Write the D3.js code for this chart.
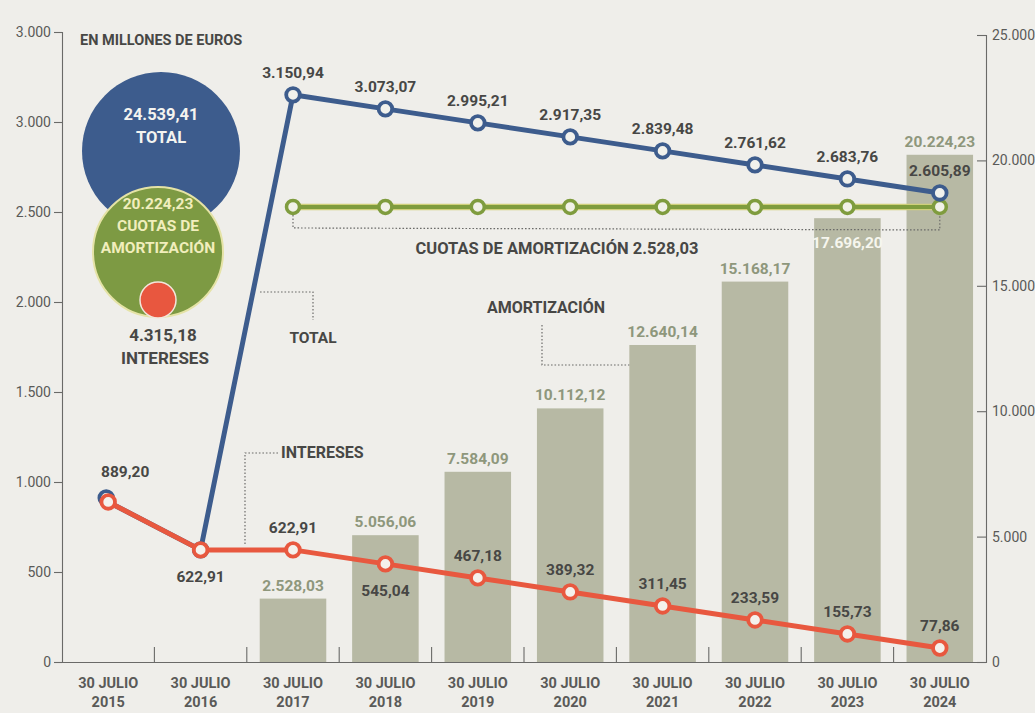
<!DOCTYPE html>
<html>
<head>
<meta charset="utf-8">
<script src="https://cdn.jsdelivr.net/npm/d3@7"></script>
<style>
  html, body { margin: 0; padding: 0; background: #efeeea; }
  svg { display: block; }
  text { font-family: Roboto, "Open Sans", sans-serif; }
</style>
</head>
<body>
<svg id="chart" width="1035" height="713"></svg>
<script>
// ---------------- DATA ----------------
const years = ["2015","2016","2017","2018","2019","2020","2021","2022","2023","2024"];
const xLabelTop = "30 JULIO";
const total = [889.20, 622.91, 3150.94, 3073.07, 2995.21, 2917.35, 2839.48, 2761.62, 2683.76, 2605.89];
const intereses = [889.20, 622.91, 622.91, 545.04, 467.18, 389.32, 311.45, 233.59, 155.73, 77.86];
const cuotas = [null, null, 2528.03, 2528.03, 2528.03, 2528.03, 2528.03, 2528.03, 2528.03, 2528.03];
const amortizacion = [null, null, 2528.03, 5056.06, 7584.09, 10112.12, 12640.14, 15168.17, 17696.20, 20224.23];
const leftTicks = [0, 500, 1000, 1500, 2000, 2500, 3000, 3500];
const leftTickLabels = ["0", "500", "1.000", "1.500", "2.000", "2.500", "3.000", "3.000"];
const rightTicks = [0, 5000, 10000, 15000, 20000, 25000];
const sumTotal = 24539.41, sumCuotas = 20224.23, sumIntereses = 4315.18;

// ---------------- SETUP ----------------
const es = d3.formatLocale({decimal: ",", thousands: ".", grouping: [3], currency: ["", "€"]});
const f2 = es.format(",.2f");
const f0 = es.format(",.0f");

const svg = d3.select("#chart");
const L = 62, R = 986, B = 662;
const x = d3.scaleBand().domain(years).range([L, R]).paddingInner(0.28).paddingOuter(0.14);
const yL = d3.scaleLinear().domain([0, 3500]).range([B, 32]);
const yR = d3.scaleLinear().domain([0, 25000]).range([B, 35]);
const cx = d => x(d) + x.bandwidth() / 2;

const BLUE = "#3d5c8d", RED = "#e8583f", GREEN = "#7f9c3e", BAR = "#b7b9a4", TXT = "#474745", AX = "#5a5a58";

// ---------------- BARS ----------------
const barData = years.map((y, i) => ({y, v: amortizacion[i]})).filter(d => d.v != null);
svg.append("g").selectAll("rect").data(barData).join("rect")
  .attr("x", d => x(d.y)).attr("width", x.bandwidth())
  .attr("y", d => yR(d.v)).attr("height", d => B - yR(d.v))
  .attr("fill", BAR);
svg.append("g").selectAll("text").data(barData).join("text")
  .attr("x", d => cx(d.y))
  .attr("y", d => d.y === "2023" ? yR(d.v) + 30 : yR(d.v) - 8)
  .attr("text-anchor", "middle")
  .attr("font-size", 15.5).attr("font-weight", 700)
  .attr("fill", d => d.y === "2023" ? "#f6f6ee" : "#8e977c")
  .text(d => f2(d.v));

// ---------------- AXES ----------------
const axL = svg.append("g").attr("transform", `translate(${L},0)`)
  .call(d3.axisLeft(yL).tickValues(leftTicks).tickSize(8).tickPadding(3)
    .tickFormat((d, i) => leftTickLabels[i]));
const axR = svg.append("g").attr("transform", `translate(${R},0)`)
  .call(d3.axisRight(yR).tickValues(rightTicks).tickSize(-9).tickPadding(6).tickFormat(f0));
[axL, axR].forEach(a => {
  a.selectAll("path,line").attr("stroke", "#6a6a68").attr("stroke-width", 1.1);
  a.selectAll("text").attr("fill", AX).attr("font-size", 14).style("font-family", "Roboto, sans-serif");
});

const axB = svg.append("g").attr("transform", `translate(0,${B})`)
  .call(d3.axisBottom(x).tickSize(0).tickPadding(0).tickFormat(""));
axB.select("path").attr("stroke", "#6a6a68").attr("stroke-width", 1.1);
axB.selectAll(".tick").each(function(d) {
  const t = d3.select(this).append("text").attr("text-anchor", "middle")
    .attr("fill", AX).attr("font-size", 14.5).attr("font-weight", 700);
  t.append("tspan").attr("x", 0).attr("y", 26).text(xLabelTop);
  t.append("tspan").attr("x", 0).attr("y", 45).text(d);
});
axB.selectAll(".sep").data(years.slice(0, -1)).join("line").attr("class", "sep")
  .attr("x1", d => cx(d) + x.step() / 2).attr("x2", d => cx(d) + x.step() / 2)
  .attr("y1", 0).attr("y2", -15).attr("stroke", "#6a6a68").attr("stroke-width", 1.1);

// ---------------- LEADER LINES ----------------
const dot = {stroke: "#6b6b69", "stroke-width": 1.2, "stroke-dasharray": "1.6,1.9", fill: "none"};
function leader(pts) {
  const p = svg.append("path").attr("d", d3.line()(pts));
  Object.entries(dot).forEach(([k, v]) => p.attr(k, v));
}
leader([[cx("2017"), yL(2528.03) + 8], [cx("2017"), yL(2528.03) + 21], [cx("2024"), yL(2528.03) + 23], [cx("2024"), yL(2528.03) + 8]]);
leader([[260, 292], [313, 292], [313, 320]]);
leader([[278, 453], [245, 453], [245, yL(622.91) - 4]]);
leader([[542, 325], [542, 365], [x("2021"), 365]]);

function label(txt, px, py, size, color, anchor) {
  return svg.append("text").attr("x", px).attr("y", py).attr("text-anchor", anchor || "middle")
    .attr("font-size", size).attr("font-weight", 700).attr("fill", color).text(txt);
}
label("CUOTAS DE AMORTIZACIÓN " + f2(2528.03), 557, 254, 16.5, TXT);
label("TOTAL", 313, 343, 15.5, TXT);
label("INTERESES", 281, 458, 16, TXT, "start");
label("AMORTIZACIÓN", 546, 313, 16, TXT);
label("EN MILLONES DE EUROS", 80, 45, 14.5, TXT, "start");

// ---------------- LINES ----------------
const line = d3.line().defined(d => d.v != null).x(d => cx(d.y)).y(d => yL(d.v));
const tData = years.map((y, i) => ({y, v: total[i]}));
const iData = years.map((y, i) => ({y, v: intereses[i]}));
const cData = years.map((y, i) => ({y, v: cuotas[i]})).filter(d => d.v != null);

// green
svg.append("path").datum(cData).attr("d", line).attr("fill", "none").attr("stroke", "#cfd07a").attr("stroke-width", 6.5);
svg.append("path").datum(cData).attr("d", line).attr("fill", "none").attr("stroke", GREEN).attr("stroke-width", 4);
svg.append("g").selectAll("circle").data(cData).join("circle")
  .attr("cx", d => cx(d.y)).attr("cy", d => yL(d.v)).attr("r", 6.5)
  .attr("fill", "#f1f1e8").attr("stroke", GREEN).attr("stroke-width", 3.5);

// blue
svg.append("path").datum(tData).attr("d", line).attr("fill", "none").attr("stroke", BLUE).attr("stroke-width", 5).attr("stroke-linejoin", "round");
svg.append("g").selectAll("circle").data(tData).join("circle")
  .attr("cx", d => cx(d.y) - (d.y === "2015" ? 2 : 0)).attr("cy", d => yL(d.v) - (d.y === "2015" ? 4 : 0)).attr("r", 6.8)
  .attr("fill", "#f1f1ec").attr("stroke", BLUE).attr("stroke-width", 3.8);
svg.append("g").selectAll("text").data(tData.filter(d => +d.y >= 2017)).join("text")
  .attr("x", d => cx(d.y)).attr("y", d => yL(d.v) - 17)
  .attr("text-anchor", "middle").attr("font-size", 15.5).attr("font-weight", 700).attr("fill", TXT)
  .text(d => f2(d.v));

// red
svg.append("path").datum(iData).attr("d", line).attr("fill", "none").attr("stroke", RED).attr("stroke-width", 5).attr("stroke-linejoin", "round");
svg.append("g").selectAll("circle").data(iData).join("circle")
  .attr("cx", d => cx(d.y)).attr("cy", d => yL(d.v)).attr("r", 6.8)
  .attr("fill", "#f4f1ec").attr("stroke", RED).attr("stroke-width", 3.8);
const below = {"2016": true, "2018": true};
svg.append("g").selectAll("text").data(iData).join("text")
  .attr("x", d => cx(d.y) + (d.y === "2015" ? 17 : 0))
  .attr("y", d => below[d.y] ? yL(d.v) + 32 : yL(d.v) - 17 - (d.y === "2015" ? 8 : 0))
  .attr("text-anchor", "middle").attr("font-size", 15.5).attr("font-weight", 700).attr("fill", TXT)
  .text(d => f2(d.v));

// ---------------- SUMMARY BUBBLES ----------------
const bub = svg.append("g");
bub.append("circle").attr("cx", 161).attr("cy", 151).attr("r", 79).attr("fill", BLUE);
bub.append("circle").attr("cx", 158).attr("cy", 252).attr("r", 65).attr("fill", "#7d9a43").attr("stroke", "#e5e3a6").attr("stroke-width", 2);
bub.append("circle").attr("cx", 158).attr("cy", 300).attr("r", 18).attr("fill", "#e8573f").attr("stroke", "#f3e6dc").attr("stroke-width", 1.5);
label(f2(sumTotal), 161, 120, 16.5, "#f4f4f0");
label("TOTAL", 161, 143, 16.5, "#f4f4f0");
label(f2(sumCuotas), 158, 209, 15.5, "#f1eebc");
label("CUOTAS DE", 158, 231, 15.5, "#f1eebc");
label("AMORTIZACIÓN", 158, 253, 15.5, "#f1eebc");
label(f2(sumIntereses), 163, 341, 17, TXT);
label("INTERESES", 165, 364, 17, TXT);
</script>
</body>
</html>
